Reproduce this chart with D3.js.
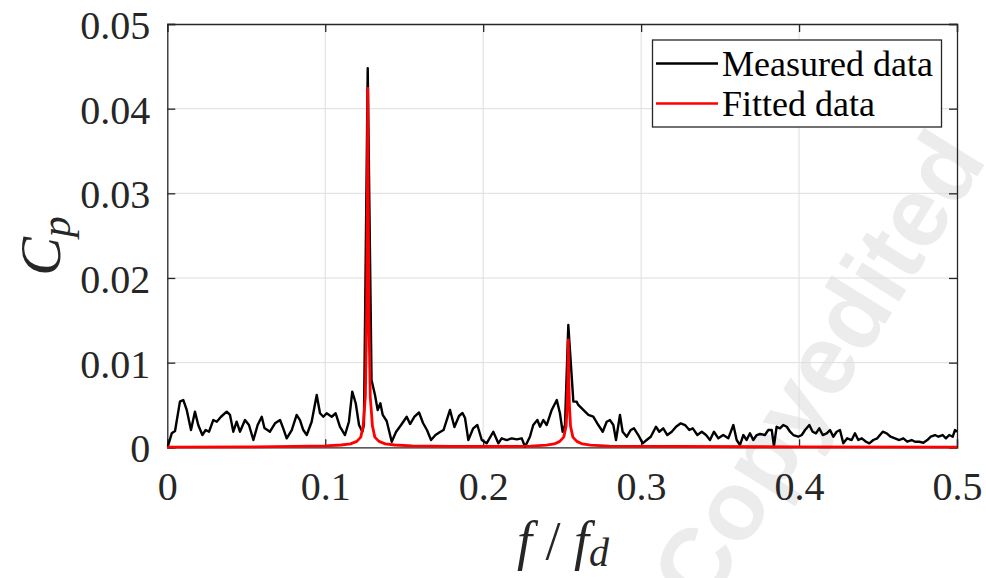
<!DOCTYPE html>
<html>
<head>
<meta charset="utf-8">
<script src="https://cdn.jsdelivr.net/npm/d3@7/dist/d3.min.js"></script>
<style>
  body { margin: 0; background: #fff; }
  text { font-family: "Liberation Serif", "Times New Roman", serif; }
</style>
</head>
<body>
<div id="chart"></div>
<script>
const width = 986,
    height = 578,
    x0 = 167.3, x1 = 957, // plot box left / right
    y0 = 447.3, y1 = 24;  // plot box bottom / top

// measured spectrum (f/fd, Cp)
const measuredF = [0.0003,0.0028,0.0049,0.0080,0.0101,0.0123,0.0150,0.0175,0.0196,0.0222,
  0.0243,0.0264,0.0291,0.0313,0.0340,0.0376,0.0397,0.0418,0.0439,0.0460,
  0.0492,0.0517,0.0545,0.0572,0.0598,0.0615,0.0650,0.0682,0.0714,0.0734,
  0.0756,0.0788,0.0819,0.0840,0.0861,0.0883,0.0914,0.0946,0.0967,0.0988,
  0.1009,0.1041,0.1066,0.1093,0.1125,0.1150,0.1171,0.1193,0.1214,0.1235,
  0.1245,0.1269,0.1293,0.1315,0.1332,0.1349,0.1364,0.1389,0.1421,0.1448,
  0.1480,0.1516,0.1537,0.1565,0.1594,0.1619,0.1644,0.1670,0.1698,0.1727,
  0.1749,0.1790,0.1818,0.1847,0.1869,0.1885,0.1906,0.1937,0.1963,0.1991,
  0.2022,0.2064,0.2096,0.2117,0.2149,0.2181,0.2212,0.2244,0.2265,0.2296,
  0.2317,0.2343,0.2360,0.2381,0.2402,0.2434,0.2466,0.2486,0.2503,0.2518,
  0.2539,0.2571,0.2592,0.2602,0.2634,0.2666,0.2697,0.2729,0.2757,0.2782,
  0.2803,0.2824,0.2841,0.2866,0.2883,0.2909,0.2934,0.2955,0.2982,0.3010,
  0.3035,0.3061,0.3094,0.3115,0.3140,0.3166,0.3194,0.3221,0.3251,0.3278,
  0.3305,0.3327,0.3356,0.3384,0.3411,0.3436,0.3461,0.3489,0.3520,0.3552,
  0.3584,0.3605,0.3626,0.3647,0.3668,0.3689,0.3710,0.3732,0.3753,0.3784,
  0.3805,0.3827,0.3841,0.3858,0.3879,0.3900,0.3922,0.3943,0.3964,0.3995,
  0.4017,0.4038,0.4065,0.4086,0.4107,0.4128,0.4150,0.4175,0.4196,0.4217,
  0.4238,0.4259,0.4280,0.4305,0.4333,0.4354,0.4375,0.4397,0.4424,0.4445,
  0.4470,0.4495,0.4530,0.4555,0.4580,0.4607,0.4635,0.4660,0.4685,0.4713,
  0.4734,0.4761,0.4787,0.4812,0.4834,0.4861,0.4882,0.4909,0.4930,0.4951,
  0.4973,0.4987,0.5000];
const measuredCp = [0.00007,0.00165,0.00193,0.00539,0.00559,0.00441,0.00204,0.00421,0.00263,0.00145,
  0.00204,0.00184,0.00322,0.00302,0.00361,0.00421,0.00382,0.00184,0.00302,0.00184,
  0.00322,0.00263,0.00086,0.00263,0.00361,0.00228,0.00184,0.00283,0.00322,0.00224,
  0.00106,0.00204,0.00382,0.00322,0.00204,0.00145,0.00302,0.00618,0.00402,0.00361,
  0.00402,0.00361,0.00402,0.00243,0.00145,0.00302,0.00657,0.00520,0.00263,0.00184,
  0.00263,0.04477,0.00795,0.00618,0.00441,0.00520,0.00382,0.00311,0.00066,0.00181,
  0.00263,0.00361,0.00275,0.00361,0.00411,0.00287,0.00204,0.00086,0.00145,0.00181,
  0.00204,0.00441,0.00240,0.00370,0.00405,0.00346,0.00086,0.00224,0.00263,0.00086,
  0.00047,0.00184,0.00047,0.00106,0.00086,0.00106,0.00094,0.00106,0.00007,0.00125,
  0.00263,0.00322,0.00243,0.00322,0.00263,0.00441,0.00559,0.00402,0.00184,0.00263,
  0.01445,0.00539,0.00539,0.00500,0.00441,0.00382,0.00361,0.00263,0.00184,0.00302,
  0.00322,0.00263,0.00086,0.00382,0.00184,0.00125,0.00204,0.00224,0.00145,0.00047,
  0.00086,0.00125,0.00243,0.00184,0.00224,0.00145,0.00184,0.00243,0.00283,0.00263,
  0.00204,0.00224,0.00145,0.00184,0.00145,0.00086,0.00184,0.00106,0.00145,0.00106,
  0.00263,0.00086,0.00027,0.00145,0.00086,0.00165,0.00086,0.00145,0.00157,0.00145,
  0.00204,0.00204,0.00015,0.00243,0.00224,0.00263,0.00243,0.00184,0.00145,0.00125,
  0.00145,0.00204,0.00263,0.00184,0.00165,0.00224,0.00145,0.00165,0.00204,0.00125,
  0.00184,0.00204,0.00047,0.00106,0.00086,0.00165,0.00086,0.00106,0.00066,0.00047,
  0.00086,0.00106,0.00184,0.00165,0.00125,0.00106,0.00086,0.00106,0.00066,0.00086,
  0.00066,0.00066,0.00054,0.00086,0.00125,0.00145,0.00125,0.00145,0.00106,0.00145,
  0.00125,0.00204,0.00184];

// fitted two-peak curve
const fittedF = [0, 0.05, 0.08, 0.10, 0.11, 0.116, 0.12, 0.1225, 0.124, 0.1254, 0.1262, 0.1267,
  0.1269, 0.1272, 0.1277, 0.1285, 0.1299, 0.1314, 0.134, 0.138, 0.144, 0.155, 0.18, 0.21,
  0.23, 0.24, 0.245, 0.2485, 0.251, 0.2525, 0.2532, 0.2536, 0.2539, 0.2542, 0.2546, 0.2553,
  0.2568, 0.2593, 0.2628, 0.268, 0.28, 0.32, 0.4, 0.5];
const fittedCp = [0.00002, 0.00005, 0.0001, 0.00017, 0.00027, 0.0004, 0.0007, 0.0012, 0.0025, 0.006, 0.015, 0.030,
  0.0424, 0.030, 0.015, 0.006, 0.0025, 0.0012, 0.0007, 0.0004, 0.00027, 0.00017, 0.0001, 0.0001,
  0.00015, 0.00025, 0.0004, 0.0007, 0.0012, 0.0025, 0.005, 0.008, 0.0127, 0.008, 0.005, 0.0025,
  0.0012, 0.0007, 0.0004, 0.00025, 0.00015, 0.0001, 0.00005, 0.00003];

const xTicks = [0, 0.1, 0.2, 0.3, 0.4, 0.5],
    xTickLabels = ["0", "0.1", "0.2", "0.3", "0.4", "0.5"];
const yTicks = [0, 0.01, 0.02, 0.03, 0.04, 0.05],
    yTickLabels = ["0", "0.01", "0.02", "0.03", "0.04", "0.05"];
const seriesNames = ["Measured data", "Fitted data"],
    seriesColors = ["#000000", "#ff0000"];

const x = d3.scaleLinear().domain([0, 0.5]).range([x0, x1]);
const y = d3.scaleLinear().domain([0, 0.05]).range([y0, y1]);

const svg = d3.select("#chart")
    .append("svg")
    .attr("width", width)
    .attr("height", height);

// watermark in the background
svg.append("text")
    .attr("transform", "translate(705,612) rotate(-58)")
    .style("font-family", "'Liberation Sans', Arial, sans-serif")
    .style("font-weight", "bold")
    .style("font-size", "98px")
    .attr("fill", "#ececec")
    .text("Copyedited");

// grid
svg.append("g").selectAll("line.gx")
    .data(xTicks.slice(1, -1))
    .enter().append("line")
    .attr("x1", d => x(d)).attr("x2", d => x(d))
    .attr("y1", y0).attr("y2", y1)
    .attr("stroke", "#dedede").attr("stroke-width", 1);
svg.append("g").selectAll("line.gy")
    .data(yTicks.slice(1, -1))
    .enter().append("line")
    .attr("x1", x0).attr("x2", x1)
    .attr("y1", d => y(d)).attr("y2", d => y(d))
    .attr("stroke", "#dedede").attr("stroke-width", 1);

// axes, ticks pointing inwards like matlab
const xAxis = d3.axisBottom(x).tickValues(xTicks).tickSize(-8).tickPadding(22)
    .tickFormat((d, i) => xTickLabels[i]);
const yAxis = d3.axisLeft(y).tickValues(yTicks).tickSize(-8).tickPadding(17)
    .tickFormat((d, i) => yTickLabels[i]);

const gx = svg.append("g")
    .attr("transform", "translate(0," + y0 + ")")
    .call(xAxis);
const gy = svg.append("g")
    .attr("transform", "translate(" + x0 + ",0)")
    .call(yAxis);
svg.append("g")
    .attr("transform", "translate(0," + y1 + ")")
    .call(d3.axisTop(x).tickValues(xTicks).tickSize(-8).tickFormat(""));
svg.append("g")
    .attr("transform", "translate(" + x1 + ",0)")
    .call(d3.axisRight(y).tickValues(yTicks).tickSize(-8).tickFormat(""));

svg.selectAll(".domain").attr("stroke", "#262626").attr("stroke-width", 1.3);
svg.selectAll(".tick line").attr("stroke", "#262626").attr("stroke-width", 1.3);
svg.selectAll(".tick text")
    .style("font-family", "'Liberation Serif', 'Times New Roman', serif")
    .style("font-size", "40px")
    .attr("fill", "#262626");
gx.selectAll(".tick text").attr("dy", "0.78em");
gy.selectAll(".tick text").attr("dy", "0.36em");

// lines
const line = d3.line()
    .x(d => x(d[0]))
    .y(d => y(d[1]));

svg.append("path")
    .datum(measuredF.map((f, i) => [f, measuredCp[i]]))
    .attr("fill", "none")
    .attr("stroke", seriesColors[0])
    .attr("stroke-width", 2.4)
    .attr("stroke-linejoin", "round")
    .attr("d", line);

svg.append("path")
    .datum(fittedF.map((f, i) => [f, fittedCp[i]]))
    .attr("fill", "none")
    .attr("stroke", seriesColors[1])
    .attr("stroke-width", 2.8)
    .attr("stroke-linejoin", "round")
    .attr("d", line);

// axis labels
const ylab = svg.append("text")
    .attr("transform", "translate(60,246) rotate(-90)")
    .attr("text-anchor", "middle")
    .style("font-size", "58px")
    .style("font-style", "italic")
    .attr("fill", "#262626");
ylab.append("tspan").text("C");
ylab.append("tspan").attr("dy", 10).style("font-size", "42px").text("p");

const xlab = svg.append("text")
    .attr("x", 563).attr("y", 559)
    .attr("text-anchor", "middle")
    .style("font-size", "54px")
    .attr("fill", "#262626");
xlab.append("tspan").style("font-style", "italic").text("f");
xlab.append("tspan").text(" / ");
xlab.append("tspan").style("font-style", "italic").text("f");
xlab.append("tspan").attr("dy", 7).style("font-size", "40px").style("font-style", "italic").text("d");

// legend
const legend = svg.append("g");
legend.append("rect")
    .attr("x", 652.5).attr("y", 40)
    .attr("width", 289).attr("height", 87)
    .attr("fill", "#fff")
    .attr("stroke", "#262626").attr("stroke-width", 1.3);
seriesNames.forEach((name, i) => {
  const ly = 63.5 + i * 40;
  legend.append("line")
      .attr("x1", 656).attr("x2", 718)
      .attr("y1", ly).attr("y2", ly)
      .attr("stroke", seriesColors[i]).attr("stroke-width", 2.5);
  legend.append("text")
      .attr("x", 722).attr("y", ly + 12)
      .style("font-size", "36px")
      .attr("fill", "#000")
      .text(name);
});
</script>
</body>
</html>
